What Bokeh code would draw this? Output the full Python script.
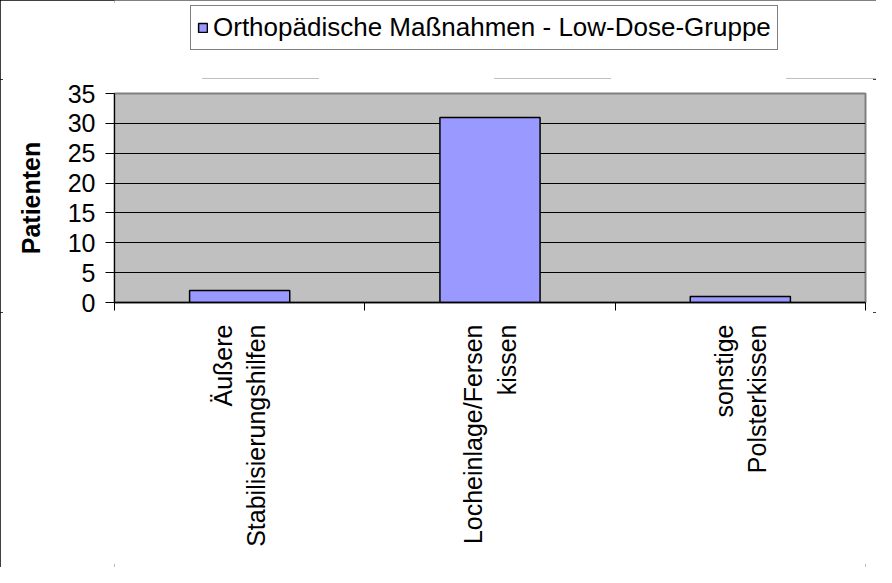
import math
from bokeh.plotting import figure
from bokeh.layouts import column
from bokeh.models import Range1d, FixedTicker, Legend, LegendItem, ColumnDataSource
from bokeh.core.properties import value
from bokeh.embed import file_html
from bokeh.resources import INLINE

# ---- data ----
categories = ["Äußere\nStabilisierungshilfen", "Locheinlage/Fersen\nkissen", "sonstige\nPolsterkissen"]
patients = [2, 31, 1]
series_name = "Orthopädische Maßnahmen - Low-Dose-Gruppe"
y_ticks = [0, 5, 10, 15, 20, 25, 30, 35]
y_label = "Patienten"

FONT = "Liberation Sans"
W = 876
LEFT, RIGHT = 114, 11
FRAME_W, FRAME_H = 751, 209
LEGEND_H = 79
TOP, BOTTOM = 14, 10
LABEL_H = 567 - (LEGEND_H + TOP + FRAME_H + BOTTOM)

n = len(categories)
centers = [i + 0.5 for i in range(n)]
bounds = [float(i) for i in range(n + 1)]

src = ColumnDataSource(dict(x=centers, top=patients, cat=categories))
x_range = Range1d(0, n)

bar_style = dict(fill_color="#9999FF", line_color="black", line_width=1.5)

# ---------------- legend strip ----------------
s = figure(frame_width=W, frame_height=LEGEND_H,
           x_range=Range1d(0, n), y_range=Range1d(1000, 1001),
           x_axis_location=None, y_axis_location=None,
           output_backend="svg", toolbar_location=None,
           min_border_left=0, min_border_right=0, min_border_top=0, min_border_bottom=0,
           background_fill_color="white", border_fill_color="white")
s.outline_line_color = None
s.xgrid.grid_line_color = None
s.ygrid.grid_line_color = None
rs = s.vbar(x="x", top="top", width=0.40, source=src, **bar_style)
legend = Legend(items=[LegendItem(label=series_name, renderers=[rs])],
                orientation="horizontal", location=(190, 29),
                label_text_font=FONT, label_text_font_size="26px",
                label_text_color="black",
                glyph_width=11, glyph_height=11, label_standoff=5,
                padding=6, margin=0, border_line_color="black", border_line_width=1,
                background_fill_color="white", background_fill_alpha=1)
s.add_layout(legend, "center")

# ---------------- main chart ----------------
p = figure(frame_width=FRAME_W, frame_height=FRAME_H,
           x_range=x_range, y_range=Range1d(0, y_ticks[-1]),
           output_backend="svg", toolbar_location=None,
           min_border_left=LEFT, min_border_right=RIGHT,
           min_border_top=TOP, min_border_bottom=BOTTOM,
           background_fill_color="#C0C0C0", border_fill_color="white")
p.outline_line_color = "#808080"
p.outline_line_width = 2

p.vbar(x="x", top="top", width=0.40, source=src, **bar_style)

p.xgrid.grid_line_color = None
p.ygrid.ticker = FixedTicker(ticks=y_ticks[1:-1])
p.ygrid.grid_line_color = "black"
p.ygrid.grid_line_width = 1

p.yaxis.ticker = FixedTicker(ticks=y_ticks)
p.yaxis.major_tick_out = 9
p.yaxis.major_tick_in = 0
p.yaxis.minor_tick_line_color = None
p.yaxis.axis_line_color = "black"
p.yaxis.major_label_text_font = FONT
p.yaxis.major_label_text_font_size = "25px"
p.yaxis.major_label_text_color = "black"
p.yaxis.major_label_standoff = 10
p.yaxis.axis_label = y_label
p.yaxis.axis_label_text_font = FONT
p.yaxis.axis_label_text_font_size = "25px"
p.yaxis.axis_label_text_font_style = "bold"
p.yaxis.axis_label_text_color = "black"
p.yaxis.axis_label_standoff = 20

# x axis: only tick marks at the category boundaries
p.xaxis.ticker = FixedTicker(ticks=bounds)
p.xaxis.major_label_overrides = {b: "" for b in bounds}
p.xaxis.major_label_text_font_size = "0px"
p.xaxis.major_label_standoff = 0
p.xaxis.major_tick_out = 8
p.xaxis.major_tick_in = 0
p.xaxis.major_tick_line_color = "black"
p.xaxis.minor_tick_line_color = None
p.xaxis.axis_line_color = "black"
p.xaxis.axis_line_width = 1.5

# ---------------- category labels strip ----------------
q = figure(frame_width=FRAME_W, frame_height=LABEL_H,
           x_range=x_range, y_range=Range1d(-LABEL_H, 0),
           x_axis_location=None, y_axis_location=None,
           output_backend="svg", toolbar_location=None,
           min_border_left=LEFT, min_border_right=RIGHT,
           min_border_top=0, min_border_bottom=0,
           background_fill_color="white", border_fill_color="white")
q.outline_line_color = None
q.xgrid.grid_line_color = None
q.ygrid.grid_line_color = None
q.text(x="x", y=-12, text="cat", source=src, angle=math.pi / 2,
       text_align="right", text_baseline="middle",
       text_font=value(FONT), text_font_size="25px", text_color="black")

lay = column(s, p, q, spacing=0,
             stylesheets=[":host { outline: 3px solid black; outline-offset: -3px; }"])

open("out.html", "w").write(file_html(lay, INLINE))
